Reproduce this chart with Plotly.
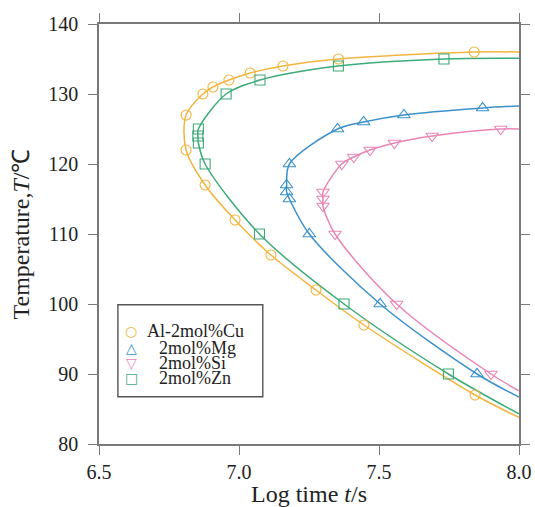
import plotly.graph_objects as go

# ---------------- data ----------------
cu_time = [7.84, 7.355, 7.157, 7.04, 6.964, 6.907, 6.871, 6.811, 6.811, 6.879, 6.986, 7.114, 7.275, 7.446, 7.843]
cu_temp = [136, 135, 134, 133, 132, 131, 130, 127, 122, 117, 112, 107, 102, 97, 87]
cu_curve_ends = [136.0, 83.8]   # fitted curve values at log t = 8.0 (upper, lower branch)

mg_time = [7.87, 7.589, 7.445, 7.352, 7.18, 7.17, 7.17, 7.18, 7.251, 7.504, 7.85]
mg_temp = [128, 127, 126, 125, 120, 117, 116, 115, 110, 100, 90]
mg_curve_ends = [128.3, 86.7]

si_time = [7.935, 7.69, 7.555, 7.468, 7.41, 7.367, 7.30, 7.30, 7.30, 7.343, 7.563, 7.90]
si_temp = [125, 124, 123, 122, 121, 120, 116, 115, 114, 110, 100, 90]
si_curve_ends = [125.0, 87.6]

zn_time = [7.732, 7.355, 7.075, 6.954, 6.855, 6.853, 6.855, 6.879, 7.073, 7.375, 7.748]
zn_temp = [135, 134, 132, 130, 125, 124, 123, 120, 110, 100, 90]
zn_curve_ends = [135.1, 84.3]

curve_end_time = 8.0

series_names = ["Al-2mol%Cu", "2mol%Mg", "2mol%Si", "2mol%Zn"]
x_ticks = [6.5, 7.0, 7.5, 8.0]
y_ticks = [80, 90, 100, 110, 120, 130, 140]

# ---------------- styling ----------------
colors = ["#F2B53E", "#3A90CC", "#E986B4", "#3DAA79"]
symbols = ["circle-open", "triangle-up-open", "triangle-down-open", "square-open"]
legend_glyphs = ["\u25CB", "\u25B3", "\u25BD", "\u25A1"]
msizes = [10, 11, 11, 10]
serif = "Liberation Serif, Times New Roman, serif"
axis_col = "#7a7a7a"

series = [
    (cu_time, cu_temp, cu_curve_ends),
    (mg_time, mg_temp, mg_curve_ends),
    (si_time, si_temp, si_curve_ends),
    (zn_time, zn_temp, zn_curve_ends),
]

fig = go.Figure()

# smooth curves
for (t, T, ends), c, name in zip(series, colors, series_names):
    fig.add_trace(go.Scatter(
        x=[curve_end_time] + t + [curve_end_time],
        y=[ends[0]] + T + [ends[1]],
        mode="lines", line=dict(color=c, width=1.5, shape="spline", smoothing=0.9),
        showlegend=False, hoverinfo="skip", cliponaxis=True))

# markers
for (t, T, ends), c, s, ms, name in zip(series, colors, symbols, msizes, series_names):
    fig.add_trace(go.Scatter(
        x=t, y=T, mode="markers", name=name,
        marker=dict(symbol=s, size=ms, color=c, line=dict(color=c, width=1.1)),
        showlegend=False))

# custom legend (box + text)
legend_rows_y = [0.2690, 0.2290, 0.1930, 0.1570]
legend_text_x = [0.1095, 0.138, 0.138, 0.138]
legend_glyph_x = 0.077
fig.add_shape(type="rect", xref="paper", yref="paper",
              x0=0.045, x1=0.390, y0=0.1126, y1=0.3317,
              line=dict(color="#555555", width=1.4), fillcolor="white", layer="above")
for name, c, g, yy, xx in zip(series_names, colors, legend_glyphs, legend_rows_y, legend_text_x):
    fig.add_annotation(xref="paper", yref="paper", x=legend_glyph_x, y=yy,
                       text=g, showarrow=False, xanchor="center", yanchor="middle",
                       font=dict(family="DejaVu Sans", size=14, color=c))
    fig.add_annotation(xref="paper", yref="paper", x=xx, y=yy,
                       text=name, showarrow=False, xanchor="left", yanchor="middle",
                       font=dict(family=serif, size=18, color="#222222"))

axis_common = dict(
    showline=True, linecolor=axis_col, linewidth=1.6, mirror="allticks",
    ticks="outside", ticklen=9, tickwidth=1.4, tickcolor=axis_col,
    showgrid=False, zeroline=False,
    tickfont=dict(family=serif, size=20, color="#222222"),
)

fig.update_xaxes(range=[6.5, 8.0], tickvals=x_ticks, ticktext=[f"{v:.1f}" for v in x_ticks],
                 title=dict(text="Log time <i>t</i>/s", font=dict(family=serif, size=24, color="#222222"),
                            standoff=30),
                 **axis_common)
fig.update_yaxes(range=[80, 140], tickvals=y_ticks,
                 title=dict(text="Temperature,<i>T</i>/\u2103", font=dict(family=serif, size=24, color="#222222"),
                            standoff=12),
                 ticklabelstandoff=6,
                 **axis_common)

fig.update_layout(
    width=535, height=507,
    margin=dict(l=99, r=16, t=24, b=63, autoexpand=False),
    plot_bgcolor="white", paper_bgcolor="white",
    showlegend=False,
)

# remove the default 8px page margin so the 535x507 figure fills the window exactly
fig.write_html(
    "out.html",
    config={"displayModeBar": False},
    post_script="document.body.style.margin='0';document.body.style.overflow='hidden';",
)
